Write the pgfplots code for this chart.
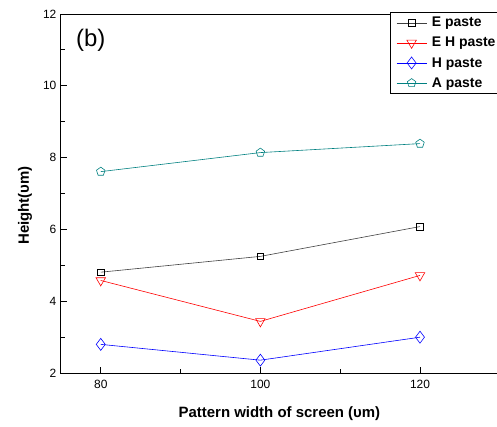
\documentclass[border=0pt]{standalone}
\usepackage{fontspec}
\setmainfont{Liberation Sans}
\usepackage{pgfplots}
\pgfplotsset{compat=1.18}
\usetikzlibrary{plotmarks}
\definecolor{cteal}{RGB}{0,128,128}
\begin{document}
\begin{tikzpicture}[x=1pt,y=1pt]
\begin{axis}[
  scale only axis,
  width=448pt, height=360pt,
  xmin=75, xmax=131, ymin=2, ymax=12,
  xtick={80,100,120}, minor xtick={90,110},
  ytick={2,4,6,8,10,12}, minor ytick={3,5,7,9,11},
  xtick pos=bottom, ytick pos=left,
  tick align=inside,
  major tick length=6pt, minor tick length=4pt,
  tick style={black, line width=0.8pt},
  axis line style={line width=0.9pt},
  /pgf/number format/assume math mode=true,
  ticklabel style={font=\fontsize{12}{14}\selectfont},
  xticklabel style={yshift=-4pt},
  yticklabel style={xshift=-1pt},
  xlabel={\textbf{Pattern width of screen (υm)}},
  ylabel={\textbf{Height(υm)}},
  label style={font=\fontsize{15}{17}\selectfont},
  xlabel style={at={(axis description cs:0.489,0)}, anchor=center, yshift=-41pt},
  ylabel style={at={(axis description cs:0,0.467)}, anchor=center, yshift=36pt},
  legend style={at={(axis cs:116.25,12)}, anchor=north west, yshift=2pt,
    font=\fontsize{14}{16}\selectfont\bfseries, draw=black, line width=0.6pt,
    row sep=5pt, inner xsep=6pt, inner ysep=3pt,
    nodes={inner xsep=1pt, inner ysep=2pt}},
  legend cell align=left,
  legend image code/.code={
    \draw[#1, mark repeat=2, mark phase=2] plot coordinates {(0pt,0pt) (15pt,0pt) (30pt,0pt)};
    \path (34pt,0pt);},
  every axis plot/.append style={line width=0.6pt, mark options={solid, fill=white, line width=0.6pt}},
  clip=false,
]
\addplot[black!75, mark=square, mark size=3.3pt, mark options={draw=black}] coordinates {(80,4.81) (100,5.25) (120,6.08)};
\addlegendentry{E paste}
\addplot[red, mark=triangle, mark options={rotate=180, draw=red}, mark size=5.5pt] coordinates {(80,4.58) (100,3.44) (120,4.72)};
\addlegendentry{E H paste}
\addplot[blue, mark=diamond, mark options={draw=blue}, mark size=6pt] coordinates {(80,2.80) (100,2.36) (120,3.00)};
\addlegendentry{H paste}
\addplot[cteal, mark=pentagon, mark options={draw=cteal}, mark size=4.5pt] coordinates {(80,7.61) (100,8.14) (120,8.39)};
\addlegendentry{A paste}
\node[anchor=center, font=\fontsize{24}{27}\selectfont] at (axis cs:78.75,11.28) {(b)};
\coordinate (sw) at (axis cs:75,2);
\coordinate (ne) at (axis cs:129.65,12);
\end{axis}
\pgfresetboundingbox
\useasboundingbox ([shift={(-61pt,-54pt)}]sw) rectangle ([shift={(0pt,14pt)}]ne);
\end{tikzpicture}
\end{document}
